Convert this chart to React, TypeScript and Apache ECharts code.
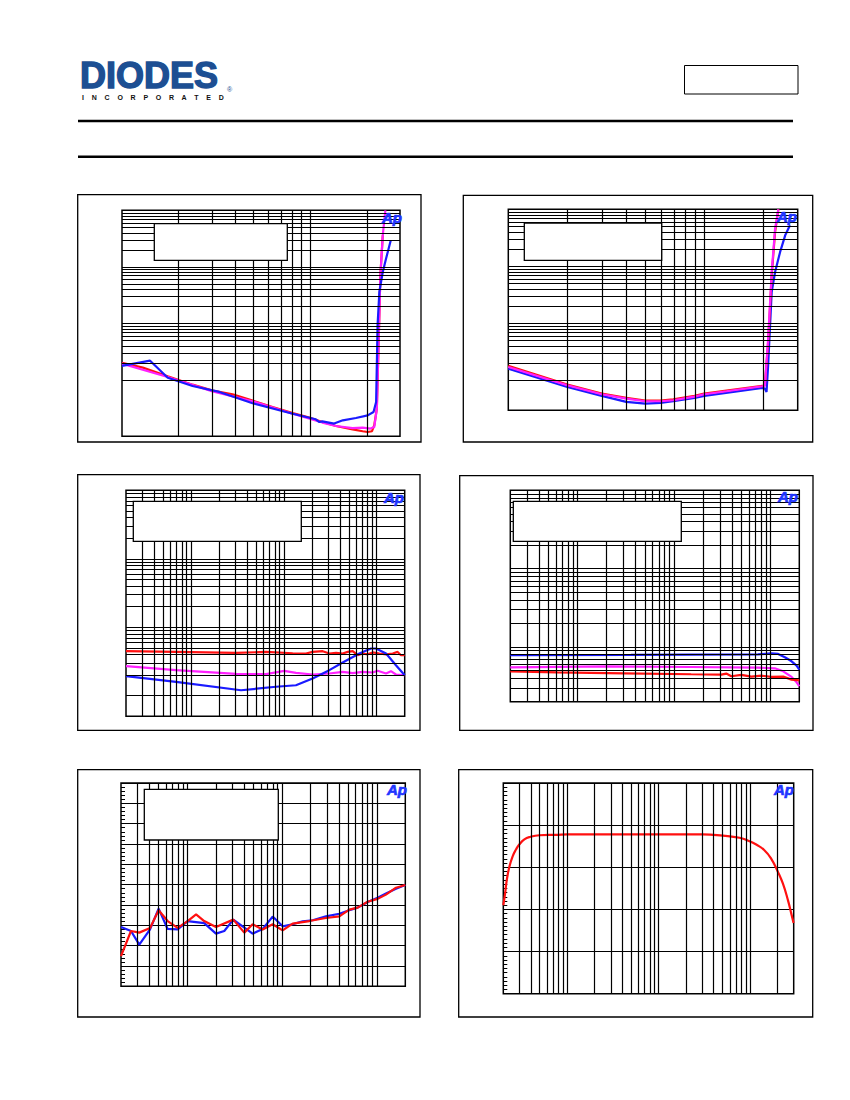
import React, { useEffect, useRef } from "react";
import * as echarts from "echarts";

// ---------- Chart 1 (x: 10..300, y: 0.001..10, log/log) ----------
const c1Red: [number, number][] = [[10,0.0199],[12.9,0.0164],[17.5,0.0115],[23.7,0.0082],[30.3,0.00643],[38.7,0.00553],[49.4,0.00428],[63.1,0.0033],[80.7,0.00259],[98.9,0.00214],[116,0.00179],[137,0.00152],[168,0.00133],[190,0.00123],[202,0.00119],[213,0.00123],[219,0.00157],[226,0.0031],[231,0.0468],[236,0.708],[243,3.61]];
const c1Magenta: [number, number][] = [[10,0.0193],[17.5,0.0112],[30.3,0.00625],[49.4,0.00417],[80.7,0.00251],[116,0.00175],[137,0.00152],[168,0.0014],[190,0.00142],[209,0.00137],[219,0.00146],[226,0.0031],[231,0.0468],[236,0.708],[243,3.61],[248,7.1],[251,10]];
const c1Blue: [number, number][] = [[10,0.0176],[14.1,0.0218],[17.5,0.0109],[23.7,0.00778],[32.9,0.0061],[49.4,0.00384],[80.7,0.00251],[107,0.002],[112,0.00179],[116,0.00184],[134,0.00168],[149,0.00192],[175,0.00211],[202,0.00235],[217,0.0027],[224,0.00405],[228,0.0923],[233,0.359],[243,0.811],[253,1.4],[268,2.94]];

// ---------- Chart 2 (x: 10..300, y: 0.003..10) ----------
const c2Red: [number, number][] = [[10,0.018],[20,0.00847],[30,0.00589],[40,0.00494],[50,0.00443],[59.7,0.00443],[69.5,0.00469],[89.3,0.00536],[100,0.00589],[130,0.00664],[198,0.00801],[204,0.00824],[212,0.0473],[221,0.697],[230,4.01],[239,10]];
const c2Magenta: [number, number][] = [[10,0.01726],[20,0.00824],[30,0.00573],[40,0.00481],[50,0.00432],[59.7,0.00432],[69.5,0.0045],[89.3,0.00521],[100,0.00573],[130,0.00647],[198,0.00791],[204,0.00813],[212,0.0542],[221,0.798],[230,4.58],[239,10]];
const c2Blue: [number, number][] = [[10,0.0161],[20,0.0077],[30,0.00536],[40,0.00421],[50,0.00394],[59.7,0.00404],[69.5,0.00433],[89.3,0.00494],[100,0.00536],[198,0.0074],[204,0.00719],[208,0.0063],[212,0.0185],[221,0.356],[230,0.798],[244,1.79],[259,3.5],[274,5.25]];

// ---------- Chart 3 (x: 20..20k Hz, y: 0.005..10) ----------
const c3Red: [number, number][] = [[20,0.0447],[69,0.0436],[305,0.0422],[643,0.0436],[1245,0.0417],[1733,0.0413],[2044,0.0436],[2617,0.0447],[3090,0.0413],[3647,0.0422],[4300,0.0413],[4867,0.0436],[5508,0.0447],[6237,0.039],[7063,0.0413],[7980,0.0402],[9036,0.0428],[10670,0.0413],[12590,0.0402],[14860,0.0413],[16800,0.0436],[18250,0.039],[20000,0.039]];
const c3Magenta: [number, number][] = [[20,0.027],[69,0.0236],[305,0.0208],[643,0.0206],[1012,0.0231],[1352,0.0216],[2044,0.0204],[3090,0.0211],[4300,0.0223],[5508,0.0213],[7063,0.0223],[9036,0.0218],[10240,0.0231],[12590,0.0211],[14220,0.0228],[16100,0.0204],[20000,0.0199]];
const c3Blue: [number, number][] = [[20,0.0193],[69,0.0159],[346,0.012],[824,0.0135],[1350,0.0142],[2040,0.0178],[3090,0.0236],[4300,0.0305],[6500,0.0413],[8670,0.0489],[9820,0.0489],[12590,0.0413],[16100,0.0279],[20000,0.0199]];

// ---------- Chart 4 (x: 20..20k Hz, y: 0.02..10) ----------
const c4Blue: [number, number][] = [[20,0.0783],[357,0.0791],[1507,0.0798],[7460,0.0805],[10280,0.083],[12070,0.0815],[14170,0.0738],[16630,0.0656],[18750,0.0578],[20000,0.0514]];
const c4Magenta: [number, number][] = [[20,0.055],[204,0.0566],[1507,0.0555],[7460,0.0545],[11140,0.0534],[13620,0.0489],[16630,0.0414],[18750,0.0354],[20000,0.0315]];
const c4Red: [number, number][] = [[20,0.0489],[61.4,0.0475],[304,0.0461],[1507,0.0448],[3100,0.0443],[3490,0.0457],[3940,0.0423],[5000,0.044],[6360,0.0418],[8090,0.043],[10280,0.0414],[13620,0.0418],[16630,0.0383],[20000,0.0375]];

// ---------- Chart 5 (x: 20..20k Hz, y: -100..0 dB) ----------
const c5BlueFreq = [20,25.5,31.2,40.5,49.9,62.1,79.2,101,151,201,246,306,384,490,625,797,1016,1295,1652,2105,2910,4027,5130,6285,8010,10210,12500,15950,20000];
const c5BlueDb = [-70.8,-72.8,-79.5,-72.0,-61.8,-71.8,-72.0,-67.9,-68.9,-74.1,-72.8,-67.2,-70.5,-74.1,-71.8,-65.7,-70.5,-69.5,-68.0,-67.5,-65.6,-64.3,-62.6,-61.3,-58.5,-56.4,-54.4,-52.0,-50.2];
const c5RedFreq = [20,25.5,31.2,40.5,49.9,62.1,79.2,101,124,151,201,306,400,490,625,797,1016,1295,1942,2910,4027,5130,6285,8010,10210,12500,15950,20000];
const c5RedDb = [-85.2,-72.8,-73.6,-71.3,-62.6,-67.9,-71.3,-67.9,-64.6,-67.9,-70.8,-67.2,-73.6,-69.5,-72.1,-69.5,-72.5,-69.2,-67.9,-66.4,-65.6,-62.3,-61.3,-58.4,-57.0,-54.9,-51.5,-50.2];

// ---------- Chart 6 (x: 20..30k Hz, y: -5..0 dB) ----------
const c6Freq = [20,20.9,21.8,23.3,25.3,27.5,29.9,34,39.2,49.6,75.5,100,1000,3040,5040,7670,9860,11670,14420,17060,20180,22880,25940,28230,29920];
const c6Db = [-2.90,-2.63,-2.31,-1.99,-1.74,-1.58,-1.46,-1.34,-1.28,-1.24,-1.23,-1.22,-1.22,-1.22,-1.25,-1.30,-1.38,-1.46,-1.60,-1.80,-2.11,-2.39,-2.78,-3.10,-3.32];

const RED = "#ff1010";
const MAGENTA = "#ff20ff";
const BLUE = "#1a1aff";
const FONT = "Liberation Sans, Arial, sans-serif";

function logLines(min: number, max: number): number[] {
  const out: number[] = [];
  for (let e = Math.floor(Math.log10(min)); e <= Math.ceil(Math.log10(max)); e++) {
    for (let k = 1; k < 10; k++) {
      const v = parseFloat((k * Math.pow(10, e)).toPrecision(3));
      if (v > min * 1.0001 && v < max * 0.9999) out.push(v);
    }
  }
  return out;
}

const zip = (xs: number[], ys: number[]) => xs.map((x, i) => [x, ys[i]]);

export default function App() {
  const ref = useRef<HTMLDivElement>(null);
  useEffect(() => {
    if (!ref.current) return;
    const chart = echarts.init(ref.current, undefined, { renderer: "svg" });

    const grids = [
      { left: 122, top: 210.3, width: 278, height: 226 },
      { left: 508.3, top: 209.3, width: 289.4, height: 201 },
      { left: 126, top: 490.3, width: 278.7, height: 226 },
      { left: 510.3, top: 490.3, width: 289, height: 211.4 },
      { left: 121, top: 783, width: 284.3, height: 203.3 },
      { left: 503.3, top: 783, width: 290.4, height: 210.7 },
    ].map((g) => ({ ...g, show: true, borderColor: "#000", borderWidth: 1.5, backgroundColor: "transparent", containLabel: false }));

    const xr = [[10, 300], [10, 300], [20, 20000], [20, 20000], [20, 20000], [20, 30000]];
    const hidden = { axisLine: { show: false }, axisTick: { show: false }, axisLabel: { show: false }, splitLine: { show: false } };
    const xAxis = xr.map((r, i) => ({ type: "log", logBase: 10, min: r[0], max: r[1], gridIndex: i, ...hidden }));
    const ylog = [[0.001, 10], [0.003, 10], [0.005, 10], [0.02, 10]];
    const yAxis: any[] = ylog.map((r, i) => ({ type: "log", logBase: 10, min: r[0], max: r[1], gridIndex: i, ...hidden }));
    yAxis.push({
      type: "value", min: -100, max: 0, interval: 10, gridIndex: 4,
      axisLine: { show: false }, axisLabel: { show: false },
      axisTick: { show: false, inside: true },
      minorTick: { show: true, splitNumber: 5, length: 4, lineStyle: { color: "#000", width: 1 } },
      splitLine: { show: true, lineStyle: { color: "#000", width: 1.2 } },
    });
    yAxis.push({
      type: "value", min: -5, max: 0, interval: 1, gridIndex: 5,
      axisLine: { show: false }, axisLabel: { show: false },
      axisTick: { show: false, inside: true },
      minorTick: { show: true, splitNumber: 10, length: 4, lineStyle: { color: "#000", width: 1 } },
      splitLine: { show: true, lineStyle: { color: "#000", width: 1.2 } },
    });

    const gridSeries = (i: number, xs: number[], ys: number[]) => ({
      type: "line", xAxisIndex: i, yAxisIndex: i, data: [], silent: true, z: 1,
      markLine: {
        silent: true, symbol: ["none", "none"], label: { show: false },
        lineStyle: { color: "#000", width: 1.2, type: "solid" },
        emphasis: { disabled: true },
        data: [...xs.map((v) => ({ xAxis: v })), ...ys.map((v) => ({ yAxis: v }))],
      },
    });
    const curve = (i: number, data: any[], color: string, smooth = false) => ({
      type: "line", xAxisIndex: i, yAxisIndex: i, data, showSymbol: false, symbol: "none",
      smooth, silent: true, z: 3, lineStyle: { color, width: 2.2 },
    });

    const series: any[] = [
      gridSeries(0, logLines(10, 300), logLines(0.001, 10)),
      gridSeries(1, logLines(10, 300), logLines(0.003, 10)),
      gridSeries(2, logLines(20, 20000), logLines(0.005, 10)),
      gridSeries(3, logLines(20, 20000), logLines(0.02, 10)),
      gridSeries(4, logLines(20, 20000), []),
      gridSeries(5, logLines(20, 30000), []),
      curve(0, c1Red, RED), curve(0, c1Magenta, MAGENTA), curve(0, c1Blue, BLUE),
      curve(1, c2Blue, BLUE), curve(1, c2Red, RED), curve(1, c2Magenta, MAGENTA),
      curve(2, c3Red, RED), curve(2, c3Magenta, MAGENTA), curve(2, c3Blue, BLUE),
      curve(3, c4Blue, BLUE), curve(3, c4Magenta, MAGENTA), curve(3, c4Red, RED),
      curve(4, zip(c5BlueFreq, c5BlueDb), BLUE), curve(4, zip(c5RedFreq, c5RedDb), RED),
      curve(5, zip(c6Freq, c6Db), RED, true),
    ];

    const frames = [
      [77.7, 194.7, 343.3, 247.3],
      [463.3, 195.3, 349.4, 246.7],
      [77.7, 474.7, 342.3, 255.6],
      [459.7, 475.7, 353.3, 254.6],
      [77.7, 769.7, 342.3, 247.3],
      [458.7, 769.7, 354, 247.3],
    ].map(([x, y, w, h]) => ({ type: "rect", z: 100, shape: { x, y, width: w, height: h }, style: { fill: "none", stroke: "#000", lineWidth: 1.3 } }));

    const boxes = [
      [154.3, 223.7, 133, 36.6],
      [524.3, 223, 137.4, 37.3],
      [133.3, 501.3, 168, 40],
      [513.3, 501.3, 168, 40],
      [144.3, 789.3, 134, 50.7],
    ].map(([x, y, w, h]) => ({ type: "rect", z: 100, shape: { x, y, width: w, height: h }, style: { fill: "#fff", stroke: "#000", lineWidth: 1.3 } }));

    const aps = [
      [382, 210], [777, 209], [384, 490], [778, 489], [387, 782], [774, 782],
    ].map(([x, y]) => ({
      type: "text", z: 101, x, y,
      style: { text: "Ap", fill: "#1f35ff", stroke: "#1f35ff", lineWidth: 0.7, fontSize: 15, fontWeight: "bold", fontStyle: "italic", fontFamily: FONT },
    }));

    const header = [
      { type: "text", z: 100, x: 80, y: 57, style: { text: "DIODES", fill: "#1d4f93", stroke: "#1d4f93", lineWidth: 1.4, fontSize: 36, fontWeight: 900, fontFamily: FONT } },
      { type: "text", z: 100, x: 82, y: 94, style: { text: "I    N    C    O    R    P    O    R    A    T    E    D", fill: "#111", fontSize: 7, fontWeight: "bold", fontFamily: FONT } },
      { type: "text", z: 100, x: 227, y: 86, style: { text: "®", fill: "#1d4f93", fontSize: 7, fontFamily: FONT } },
      { type: "rect", z: 100, shape: { x: 684.5, y: 65.5, width: 113.5, height: 28.5 }, style: { fill: "none", stroke: "#000", lineWidth: 1 } },
      { type: "rect", z: 100, shape: { x: 78, y: 119.8, width: 715, height: 2.4 }, style: { fill: "#000" } },
      { type: "rect", z: 100, shape: { x: 78, y: 155.5, width: 715, height: 2.4 }, style: { fill: "#000" } },
    ];

    chart.setOption({
      animation: false,
      backgroundColor: "#fff",
      grid: grids,
      xAxis,
      yAxis,
      series,
      graphic: { elements: [...header, ...frames, ...boxes, ...aps] },
    });
    return () => chart.dispose();
  }, []);
  return <div ref={ref} style={{ position: "absolute", left: 0, top: 0, width: 850, height: 1100 }} />;
}
